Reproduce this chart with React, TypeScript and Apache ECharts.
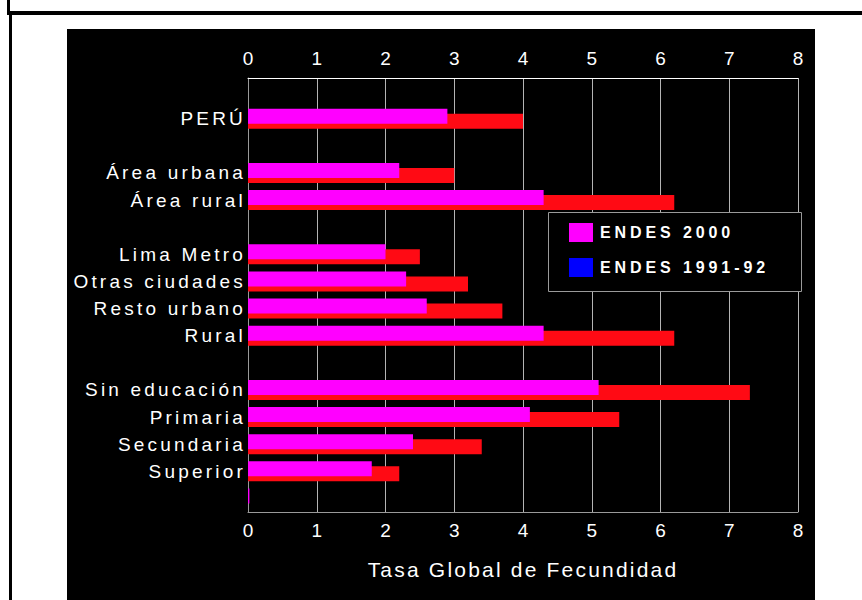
import { useEffect, useRef } from 'react';
import * as echarts from 'echarts';

const categories = ['', 'PERÚ', '', 'Área urbana', 'Área rural', '', 'Lima Metro', 'Otras ciudades', 'Resto urbano', 'Rural', '', 'Sin educación', 'Primaria', 'Secundaria', 'Superior', ''];
const endes2000 = [null, 2.9, null, 2.2, 4.3, null, 2.0, 2.3, 2.6, 4.3, null, 5.1, 4.1, 2.4, 1.8, 0.02];
const endes1991 = [null, 4.0, null, 3.0, 6.2, null, 2.5, 3.2, 3.7, 6.2, null, 7.3, 5.4, 3.4, 2.2, null];
const seriesNames = ['ENDES 2000', 'ENDES 1991-92'];
const axisTitle = 'Tasa Global de Fecundidad';
const xMin = 0;
const xMax = 8;
const xInterval = 1;

const FONT = 'Liberation Sans';
const TICK_FONT = 'Liberation Sans, sans-serif';

const css = `
.tgf-chart svg text[style*="19px"] { letter-spacing: 3.2px; }
.tgf-chart svg text[style*="21px"] { letter-spacing: 2.2px; }
.tgf-chart svg text[style*="bold"] { letter-spacing: 3.9px; }
.tgf-chart svg text[style*="sans-serif"] { letter-spacing: 0px; }
`;

export default function App() {
  const ref = useRef<HTMLDivElement>(null);
  useEffect(() => {
    if (!ref.current) return;
    const chart = echarts.init(ref.current, undefined, { renderer: 'svg' });
    chart.setOption({
      animation: false,
      backgroundColor: '#ffffff',
      graphic: [
        { type: 'rect', z: -10, shape: { x: 67, y: 29, width: 748, height: 571 }, style: { fill: '#000000' } },
        { type: 'rect', z: -10, shape: { x: 7, y: 0, width: 3, height: 12 }, style: { fill: '#000000' } },
        { type: 'rect', z: -10, shape: { x: 9, y: 12, width: 3, height: 588 }, style: { fill: '#000000' } },
        { type: 'rect', z: -10, shape: { x: 7, y: 11, width: 855, height: 4 }, style: { fill: '#000000' } },
        { type: 'rect', z: 3, shape: { x: 548.5, y: 212.5, width: 253, height: 79 }, style: { fill: '#000000', stroke: '#9a9a9a', lineWidth: 1 } },
      ],
      grid: { left: 248, right: 64, top: 78, bottom: 88, containLabel: false },
      legend: {
        orient: 'vertical',
        left: 569,
        top: 223,
        padding: 0,
        itemWidth: 24,
        itemHeight: 19,
        itemGap: 16,
        icon: 'rect',
        selectedMode: false,
        z: 5,
        textStyle: { color: '#ffffff', fontWeight: 'bold', fontSize: 16, fontFamily: FONT, padding: [0, 0, 0, 2] },
        data: [
          { name: seriesNames[0], itemStyle: { color: '#ff00ff' } },
          { name: seriesNames[1], itemStyle: { color: '#0000ff' } },
        ],
      },
      xAxis: [
        {
          type: 'value',
          position: 'top',
          min: xMin,
          max: xMax,
          interval: xInterval,
          axisLine: { show: true, lineStyle: { color: '#ffffff', width: 1 } },
          axisTick: { show: false },
          axisLabel: { color: '#ffffff', fontSize: 19, fontFamily: TICK_FONT, margin: 10 },
          splitLine: { show: true, lineStyle: { color: '#b4b4b4', width: 1 } },
        },
        {
          type: 'value',
          position: 'bottom',
          min: xMin,
          max: xMax,
          interval: xInterval,
          axisLine: { show: true, lineStyle: { color: '#9a9a9a', width: 1 } },
          axisTick: { show: false },
          axisLabel: { color: '#ffffff', fontSize: 19, fontFamily: TICK_FONT, margin: 9 },
          splitLine: { show: false },
          name: axisTitle,
          nameLocation: 'middle',
          nameGap: 47,
          nameTextStyle: { color: '#ffffff', fontSize: 21, fontFamily: FONT },
        },
      ],
      yAxis: {
        type: 'category',
        inverse: true,
        data: categories,
        axisLine: { show: true, lineStyle: { color: '#9a9a9a', width: 1 } },
        axisTick: { show: false },
        axisLabel: { color: '#ffffff', fontSize: 19, fontFamily: FONT, margin: 2, interval: 0 },
        splitLine: { show: false },
      },
      series: [
        {
          name: seriesNames[0],
          type: 'bar',
          xAxisIndex: 0,
          data: endes2000,
          barWidth: 15,
          barGap: '-66.67%',
          z: 3,
          itemStyle: { color: '#ff00ff' },
        },
        {
          name: seriesNames[1],
          type: 'bar',
          xAxisIndex: 0,
          data: endes1991,
          barWidth: 15,
          barGap: '-66.67%',
          z: 2,
          itemStyle: { color: '#ff0a14' },
        },
      ],
    });
    return () => chart.dispose();
  }, []);
  return (
    <>
      <style>{css}</style>
      <div className="tgf-chart" ref={ref} style={{ position: 'fixed', left: 0, top: 0, width: 862, height: 600 }} />
    </>
  );
}
